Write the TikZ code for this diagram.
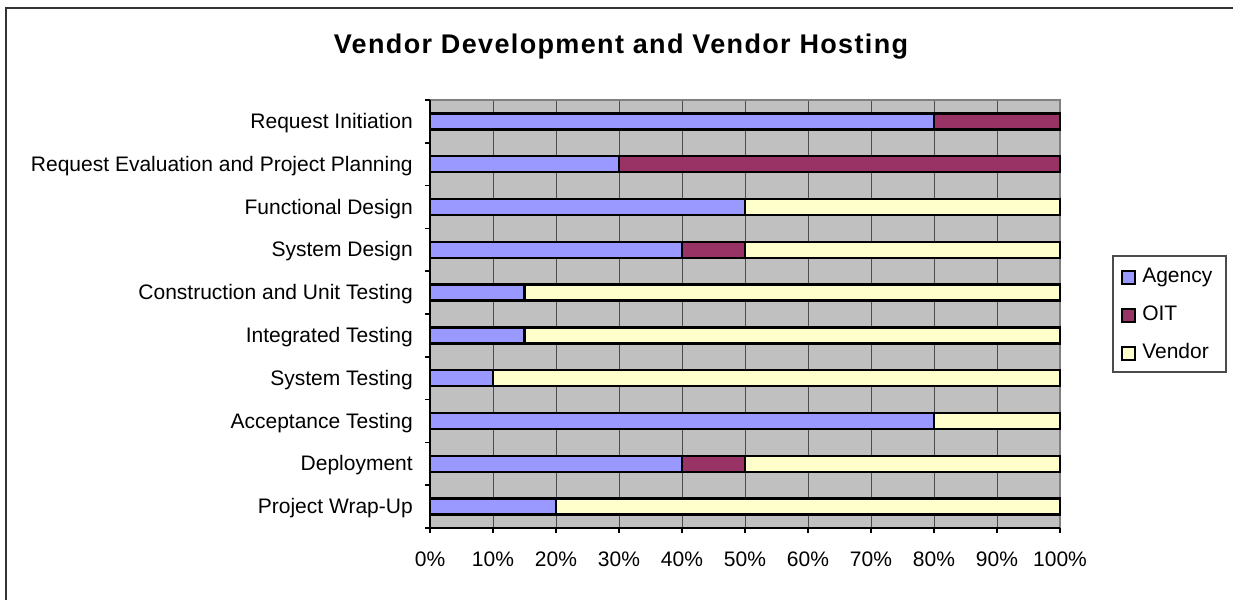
\documentclass[tikz,border=0pt]{standalone}
\usepackage{fontspec}
\setmainfont{Liberation Sans}
\usepackage{tikz}

\definecolor{agency}{HTML}{9999FF}
\definecolor{oit}{HTML}{993366}
\definecolor{vendor}{HTML}{FFFFCC}
\definecolor{plotbg}{HTML}{C0C0C0}

\begin{document}
\begin{tikzpicture}[x=0.75pt,y=-0.75pt,
        seg/.style={draw=black,line width=1.9pt},
        lab/.style={font=\fontsize{15.75}{18}\selectfont,inner sep=0pt},
        gridline/.style={draw=black!70,line width=0.75pt},
        axisline/.style={draw=black,line width=1.1pt}]
        \useasboundingbox (0,0) rectangle (1233,600);
        % frame of the chart
        \draw[line width=1.5pt,draw=black!80] (5.5,700)--(5.5,7.5)--(1300,7.5);
        \node[font=\bfseries\fontsize{20.25}{24}\selectfont\addfontfeature{LetterSpace=5},inner sep=0pt,anchor=base] (title) at (621,53.5) {Vendor Development and Vendor Hosting};

        % plot area
        \fill[plotbg] (430,100) rectangle (1060,528);
        \foreach \k in {1,...,9}
            \draw[gridline] ({430+63*\k},100)--({430+63*\k},528);
        \draw[line width=1.5pt,draw=black!50] (430,100)--(1060,100)--(1060,528);

        % bars
        \foreach \i/\name/\a/\o in {0/Request Initiation/80/20,
                1/Request Evaluation and Project Planning/30/70,
                2/Functional Design/50/0,
                3/System Design/40/10,
                4/Construction and Unit Testing/15/0,
                5/Integrated Testing/15/0,
                6/System Testing/10/0,
                7/Acceptance Testing/80/0,
                8/Deployment/40/10,
                9/Project Wrap-Up/20/0}{
            \pgfmathsetmacro\yc{121.4+42.8*\i}
            \pgfmathsetmacro\xa{430+6.3*\a}
            \pgfmathsetmacro\xo{430+6.3*(\a+\o)}
            \draw[seg,fill=agency] (430,{\yc-8}) rectangle (\xa,{\yc+8});
            \draw[seg,fill=oit] (\xa,{\yc-8}) rectangle (\xo,{\yc+8});
            \draw[seg,fill=vendor] (\xo,{\yc-8}) rectangle (1060,{\yc+8});
            \node[lab,anchor=base east] (cat\i) at (413,{\yc+7}) {\name};
        }

        % axes
        \draw[axisline] (430,100)--(430,528)--(1060,528);
        \foreach \k in {0,...,10}
            \draw[axisline] (425,{100+42.8*\k})--(430,{100+42.8*\k});
        \foreach \k in {0,...,10}{
            \pgfmathtruncatemacro\pc{10*\k}
            \draw[axisline] ({430+63*\k},528)--({430+63*\k},533);
            \node[lab,anchor=base] (tick\k) at ({430+63*\k},566) {\pc\%};
        }

        % legend
        \draw[draw=black!70,line width=0.9pt] (1113,256) rectangle (1226,372);
        \foreach \j/\col/\txt in {0/agency/Agency,1/oit/OIT,2/vendor/Vendor}{
            \draw[line width=1.1pt,fill=\col] (1122,{271+38*\j}) rectangle (1135,{284+38*\j});
            \node[lab,anchor=base west] (leg\j) at (1142,{282+38*\j}) {\txt};
        }
    \end{tikzpicture}
\end{document}
